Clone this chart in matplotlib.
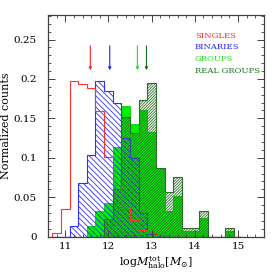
import numpy as np
import matplotlib
matplotlib.use("Agg")
from matplotlib import pyplot as plt
from matplotlib.ticker import MultipleLocator

# bin edges of the histograms (width 0.2 dex)
edges = np.round(np.arange(10.7, 15.11, 0.2), 2)

# normalized counts per bin
singles = [0.004, 0.035, 0.197, 0.193, 0.189, 0.159, 0.101, 0.066, 0.038, 0.021, 0.0085,
           0.004, 0.002, 0, 0, 0, 0, 0, 0, 0, 0, 0]
binaries = [0, 0, 0.0135, 0.068, 0.104, 0.197, 0.185, 0.169, 0.125, 0.100, 0.030,
            0.003, 0.002, 0, 0, 0, 0, 0, 0, 0, 0, 0]
groups = [0, 0, 0, 0, 0.013, 0.032, 0.042, 0.114, 0.166, 0.143, 0.161,
          0.133, 0.087, 0.032, 0.052, 0.007, 0.007, 0.023, 0, 0, 0.007, 0]
real_groups = [0, 0, 0, 0, 0, 0, 0.022, 0.06, 0.152, 0.132, 0.173,
               0.195, 0.087, 0.056, 0.076, 0.011, 0.011, 0.033, 0, 0, 0.011, 0]

# mean values marked by arrows
means = [11.58, 12.03, 12.67, 12.88]
labels = ["SINGLES", "BINARIES", "GROUPS", "REAL GROUPS"]
colors = ["#ff2020", "#2020ff", "#20e020", "#1a6e1a"]

plt.rcParams["font.family"] = ["DejaVu Serif"]
plt.rcParams["mathtext.fontset"] = "dejavuserif"
plt.rcParams["hatch.linewidth"] = 0.6

fig = plt.figure(figsize=(2.79, 2.79), dpi=100)
ax = fig.add_axes([0.172, 0.152, 0.774, 0.794])

# groups: solid green fill
ax.stairs(groups, edges, fill=True, facecolor="#00f000", edgecolor="#00d000", lw=0.6)
# binaries: blue hatch
ax.stairs(binaries, edges, fill=True, facecolor="none", edgecolor="#3030ff",
          hatch="\\" * 6, lw=0.8)
# real groups: dense dark green hatch
ax.stairs(real_groups, edges, fill=True, facecolor="none", edgecolor="#2a6e2a",
          hatch="/" * 12, lw=0.8)
# singles: red outline
ax.stairs(singles, edges, color="#ff3030", lw=0.8)

for m, c in zip(means, colors):
    ax.annotate("", xy=(m, 0.211), xytext=(m, 0.242),
                arrowprops=dict(arrowstyle="-|>", color=c, lw=0.8,
                                mutation_scale=4, shrinkA=0, shrinkB=0))

for i, (lab, c) in enumerate(zip(labels, colors)):
    ax.text(14.0, 0.255 - i * 0.0148, lab, color=c, fontsize=6,
            ha="left", va="center")

ax.set_xlim(10.6, 15.6)
ax.set_ylim(0, 0.281)
ax.xaxis.set_major_locator(MultipleLocator(1))
ax.xaxis.set_minor_locator(MultipleLocator(0.2))
ax.yaxis.set_major_locator(MultipleLocator(0.05))
ax.yaxis.set_minor_locator(MultipleLocator(0.01))
ax.set_yticks([0, 0.05, 0.1, 0.15, 0.2, 0.25])
ax.set_yticklabels(["0", "0.05", "0.1", "0.15", "0.2", "0.25"])
ax.tick_params(which="both", direction="in", top=True, right=True,
               labelsize=7.5, color="#404040")
ax.tick_params(which="major", length=5, width=0.7)
ax.tick_params(which="minor", length=2.5, width=0.6)
ax.tick_params(axis="y", pad=8)
ax.tick_params(axis="x", pad=4)
for s in ax.spines.values():
    s.set_linewidth(0.9)
    s.set_color("#404040")

ax.set_ylabel("Normalized counts", fontsize=8, labelpad=2)
ax.set_xlabel(r"$\mathrm{log}M_{\mathrm{halo}}^{\mathrm{tot}}[M_{\odot}]$", fontsize=8, labelpad=2)

fig.savefig("out.png", dpi=100)
